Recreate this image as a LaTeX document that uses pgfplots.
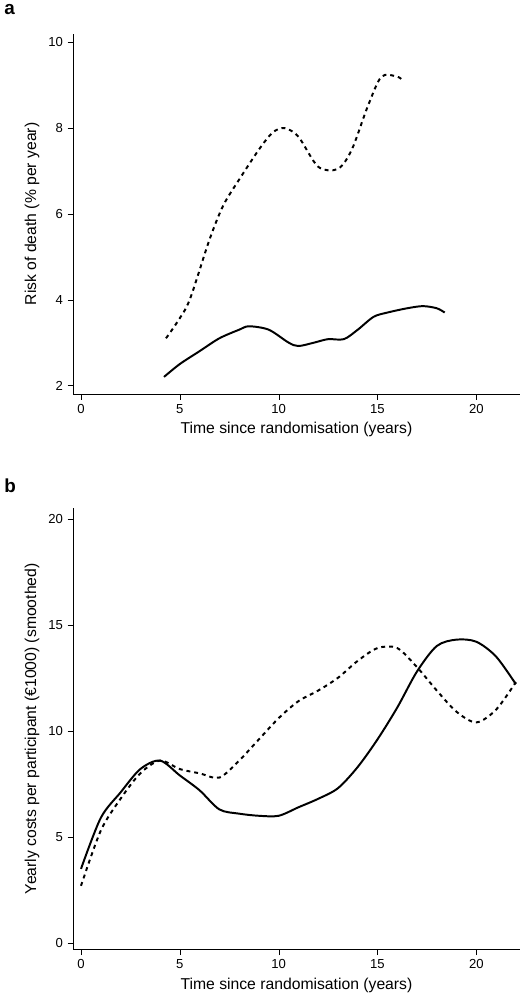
\documentclass[border=0pt]{standalone}
\usepackage{pgfplots}
\pgfplotsset{compat=1.18}
\usepackage{fontspec}
\setmainfont{Liberation Sans}
\begin{document}
\begin{tikzpicture}
\pgfplotsset{every axis/.style={scale only axis, width=341pt,
  axis lines*=left, axis line style={-}, tick align=outside,
  tick style={black}, xmin=-0.4, xmax=22.2, xtick={0,5,10,15,20},
  /pgf/number format/assume math mode=true,
  tick label style={font=\normalsize}, label style={font=\large}}}
\pgfplotsset{myl/.style={black, no marks, line width=1.5pt, smooth}}
\begin{axis}[name=a, height=275pt, ymin=1.8, ymax=10.2, ytick={2,4,6,8,10},
  xlabel={Time since randomisation (years)}, ylabel={Risk of death (\% per year)}]
\addplot[myl, dashed] coordinates {(4.3,3.1)(4.9,3.5)(5.5,4.0)(6.5,5.4)(7.2,6.2)(8,6.8)(9,7.5)(9.7,7.9)(10.3,8.0)(11,7.8)(12,7.1)(13,7.05)(13.7,7.5)(14.5,8.5)(15.2,9.2)(16,9.2)(16.3,9.1)};
\addplot[myl] coordinates {(4.2,2.2)(5,2.5)(6,2.8)(7,3.1)(8,3.3)(8.5,3.38)(9.5,3.3)(10.5,3.0)(11,2.92)(11.8,3.0)(12.5,3.08)(13.3,3.08)(14,3.3)(14.8,3.6)(15.5,3.7)(16.5,3.8)(17.3,3.85)(18,3.8)(18.4,3.7)};
\end{axis}
\node[font=\Large\bfseries, anchor=north west] at ([xshift=-56pt,yshift=26pt]a.north west) {a};
\begin{axis}[name=b, at={(0,-87pt)}, anchor=north west, height=337pt, ymin=-0.3, ymax=20.5, ytick={0,5,10,15,20},
  xlabel={Time since randomisation (years)}, ylabel={Yearly costs per participant (€1000) (smoothed)}]
\addplot[myl] coordinates {(0,3.5)(1,5.9)(2,7.1)(3,8.2)(4,8.6)(5,7.9)(6,7.2)(7,6.3)(8,6.1)(9,6.0)(10,6.0)(11,6.4)(12,6.8)(13,7.3)(14,8.3)(15,9.6)(16,11.1)(17,12.8)(18,14.0)(19,14.3)(20,14.2)(21,13.5)(22,12.2)};
\addplot[myl, dashed] coordinates {(0,2.7)(1,5.3)(2,6.8)(3,8.0)(4,8.6)(5,8.2)(6,8.0)(7,7.8)(8,8.6)(9,9.6)(10,10.6)(11,11.4)(12,11.9)(13,12.5)(14,13.3)(15,13.9)(16,13.9)(17,13.0)(18,11.9)(19,10.9)(20,10.4)(21,11.0)(22,12.3)};
\end{axis}
\node[font=\Large\bfseries, anchor=north west] at ([xshift=-56pt,yshift=26pt]b.north west) {b};
\end{tikzpicture}
\end{document}
